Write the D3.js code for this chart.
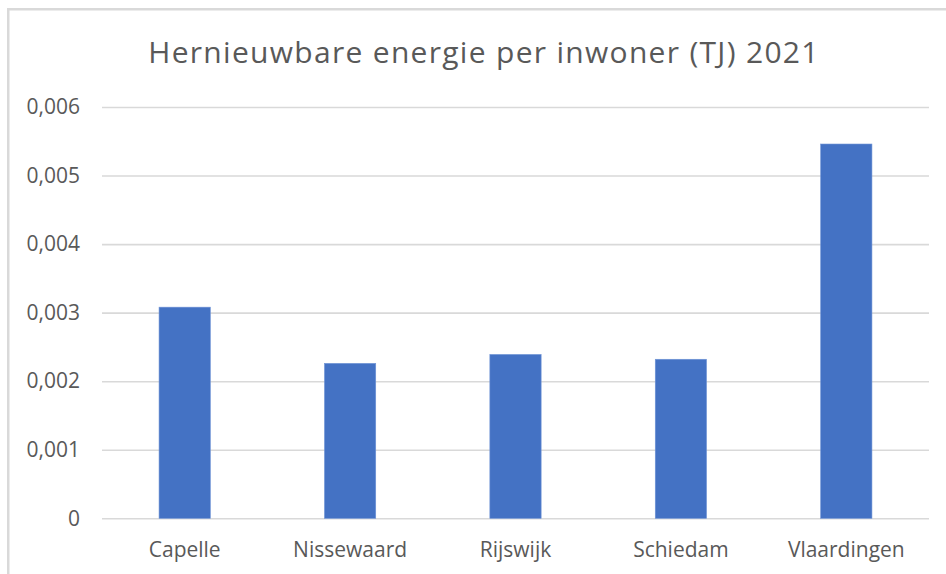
<!DOCTYPE html>
<html>
<head>
<meta charset="utf-8">
<script src="https://cdn.jsdelivr.net/npm/d3@7"></script>
<style>
  body { margin: 0; background: #fff; }
  text { font-family: "Open Sans", sans-serif; fill: #595959; }
</style>
</head>
<body>
<div id="chart"></div>
<script>
const width = 946;
const height = 574;
const margin = { top: 107, right: 17, bottom: 56, left: 102 };

// data
const gemeenten = ['Capelle', 'Nissewaard', 'Rijswijk', 'Schiedam', 'Vlaardingen'];
const perInwoner = [0.00308, 0.00226, 0.00239, 0.00232, 0.00546];
const yTicks = [0, 0.001, 0.002, 0.003, 0.004, 0.005, 0.006];
const title = 'Hernieuwbare energie per inwoner (TJ) 2021';

const data = gemeenten.map((g, i) => ({ name: g, value: perInwoner[i] }));

const svg = d3.select('#chart')
    .append('svg')
    .attr('width', width)
    .attr('height', height);

// chart frame
svg.append('rect')
    .attr('x', 8.25)
    .attr('y', 9.25)
    .attr('width', width)
    .attr('height', height)
    .attr('fill', 'none')
    .attr('stroke', '#d9d9d9')
    .attr('stroke-width', 2.5);

const xScale = d3.scaleBand()
    .domain(gemeenten)
    .range([margin.left, width - margin.right])
    .paddingInner(0.69)
    .paddingOuter(0.345);

const yScale = d3.scaleLinear()
    .domain([0, 0.006])
    .range([518.3, margin.top]);

const fmt = v => v === 0 ? '0' : d3.format('.3f')(v).replace('.', ',');

// gridlines + y labels
const yAxis = d3.axisLeft(yScale)
    .tickValues(yTicks)
    .tickFormat(fmt)
    .tickSize(-(width - margin.right - margin.left))
    .tickPadding(22);

const yAxisGroup = svg.append('g')
    .attr('transform', `translate(${margin.left}, 0)`)
    .call(yAxis);

yAxisGroup.select('.domain').remove();
yAxisGroup.selectAll('.tick line')
    .style('stroke', '#d9d9d9')
    .style('stroke-width', '1.6px');
yAxisGroup.selectAll('.tick text')
    .style('font-size', '21px')
    .style('font-family', '"Open Sans", sans-serif')
    .style('fill', '#595959');

// bars
svg.selectAll('.bar')
    .data(data)
    .join('rect')
    .attr('class', 'bar')
    .attr('x', d => xScale(d.name))
    .attr('y', d => yScale(d.value))
    .attr('width', xScale.bandwidth())
    .attr('height', d => yScale(0) - yScale(d.value))
    .attr('fill', '#4472c4')
    .attr('stroke', '#6f93d6')
    .attr('stroke-width', 0.6);

// x labels
const xAxisGroup = svg.append('g')
    .attr('transform', `translate(0, ${yScale(0)})`)
    .call(d3.axisBottom(xScale).tickSize(0).tickPadding(23.5));

xAxisGroup.select('.domain').remove();
xAxisGroup.selectAll('.tick text')
    .style('font-size', '21px')
    .style('font-family', '"Open Sans", sans-serif')
    .style('fill', '#595959');

// title
svg.append('text')
    .attr('x', 484)
    .attr('y', 63)
    .attr('text-anchor', 'middle')
    .style('font-size', '30px')
    .style('letter-spacing', '1.3px')
    .text(title);
</script>
</body>
</html>
